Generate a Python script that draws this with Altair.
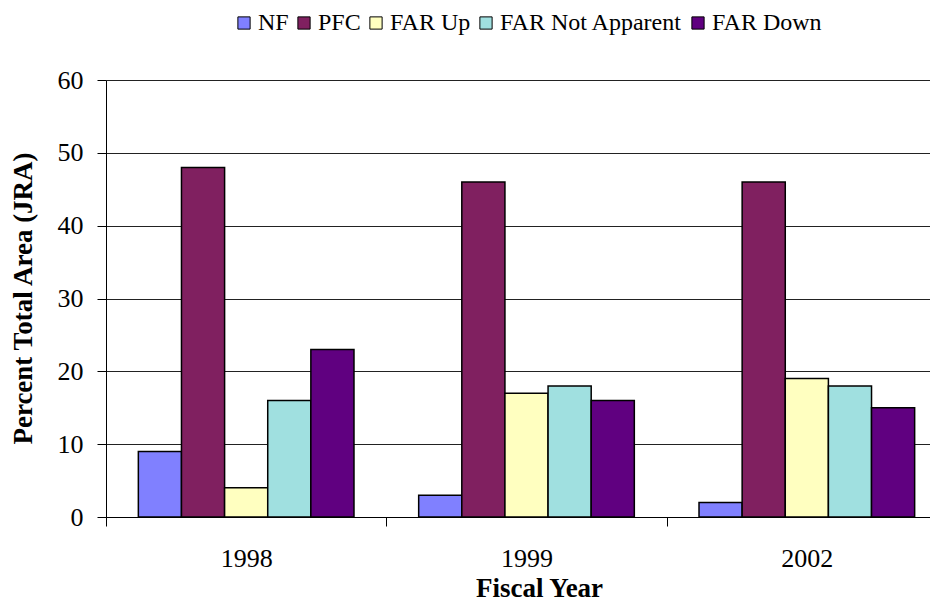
import altair as alt
import pandas as pd

years = ["1998", "1999", "2002"]
categories = ["NF", "PFC", "FAR Up", "FAR Not Apparent", "FAR Down"]
nf = [9, 3, 2]
pfc = [48, 46, 46]
far_up = [4, 17, 19]
far_not_apparent = [16, 18, 18]
far_down = [23, 16, 15]
colors = ["#8080FF", "#802060", "#FFFFC0", "#A0E0E0", "#600080"]
y_ticks = [0, 10, 20, 30, 40, 50, 60]

series = [nf, pfc, far_up, far_not_apparent, far_down]
rows = []
for cat, vals in zip(categories, series):
    for yr, v in zip(years, vals):
        rows.append({"year": yr, "cat": cat, "value": v})
df = pd.DataFrame(rows)

FONT = "Liberation Serif"

chart = alt.Chart(df).mark_bar(stroke="black", strokeWidth=1.5).encode(
    x=alt.X(
        "year:N", sort=years,
        scale=alt.Scale(range=[0, 841], paddingInner=0, paddingOuter=0),
        axis=alt.Axis(
            title="Fiscal Year", labelAngle=0, tickBand="extent",
            labelFont=FONT, labelFontSize=26, labelColor="black", labelPadding=19,
            tickSize=9, tickColor="black", domainColor="black", grid=False,
            titleFont=FONT, titleFontSize=27, titleFontWeight="bold", titleColor="black",
            titleX=433, titleY=71, titleBaseline="middle",
        ),
    ),
    xOffset=alt.XOffset("cat:N", sort=categories,
                        scale=alt.Scale(paddingInner=0, paddingOuter=0.75)),
    y=alt.Y(
        "value:Q", scale=alt.Scale(domain=[0, 60]),
        axis=alt.Axis(
            title="Percent Total Area (JRA)", values=y_ticks,
            labelFont=FONT, labelFontSize=26, labelColor="black", labelPadding=14,
            tickSize=9, tickColor="black", domainColor="black",
            grid=True, gridColor="#222222", gridWidth=1,
            titleFont=FONT, titleFontSize=27, titleFontWeight="bold", titleColor="black",
            titleX=-83, titleY=218, titleBaseline="middle", titleAlign="center",
        ),
    ),
    color=alt.Color(
        "cat:N", sort=categories,
        scale=alt.Scale(domain=categories, range=colors),
        legend=alt.Legend(
            title=None, orient="none", legendX=126, legendY=-69, direction="horizontal",
            symbolType="square", symbolSize=150, symbolStrokeColor="black",
            symbolStrokeWidth=1, labelFont=FONT, labelFontSize=24, labelColor="black",
            labelOffset=2, columnPadding=3, labelLimit=0,
        ),
    ),
).properties(
    width=824, height=437,
    padding={"left": 98, "top": 72, "right": 0, "bottom": 84},
    autosize="none", background="white",
).configure(font=FONT).configure_view(stroke=None)

chart.save("out.html", embed_options={"renderer": "svg", "actions": False})
